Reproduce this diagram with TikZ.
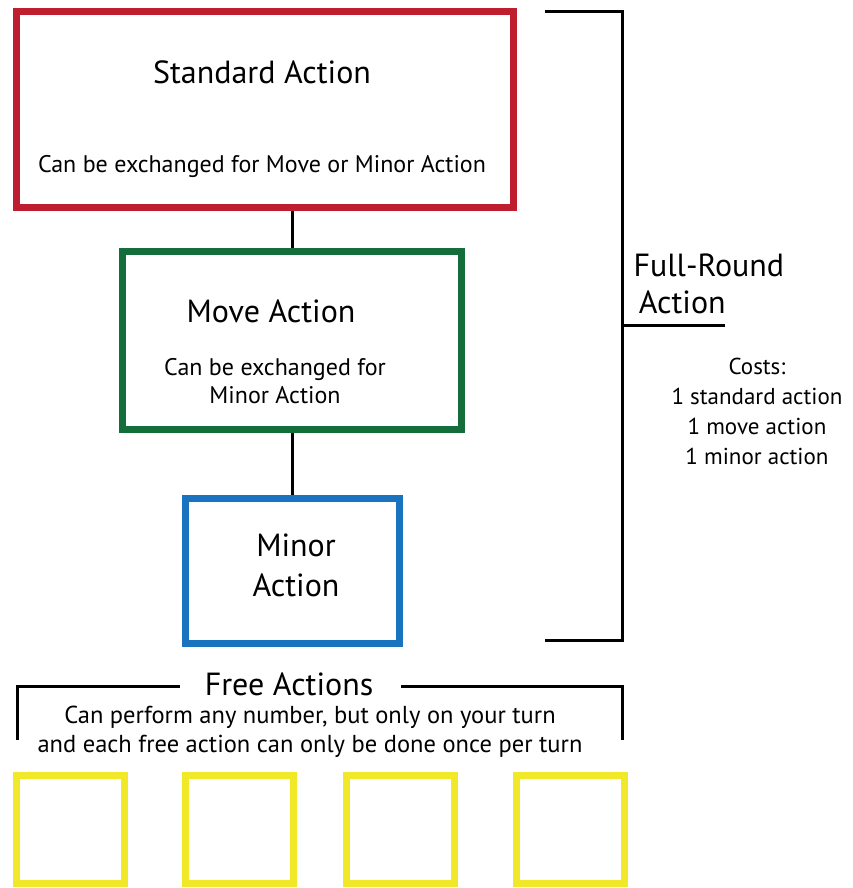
\documentclass[tikz,border=0pt]{standalone}
\usepackage{fontspec}
\setmainfont{PT Sans}
\usetikzlibrary{calc}
\definecolor{stdred}{RGB}{190,30,45}
\definecolor{movegreen}{RGB}{20,110,60}
\definecolor{minorblue}{RGB}{25,115,190}
\definecolor{freeyellow}{RGB}{240,232,40}

\begin{document}
\begin{tikzpicture}[x=1pt,y=-1pt,
  box/.style={draw,line width=7pt,inner sep=0pt},
  big/.style={font=\fontsize{32}{39}\selectfont,align=center},
  small/.style={font=\fontsize{24}{28}\selectfont,align=center},
  bar/.style={line width=3pt}]
  \useasboundingbox (0,0) rectangle (852,888);
  % action boxes
  \node[box,stdred,minimum width=497pt,minimum height=196pt] (std) at (265,109.5) {};
  \node[box,movegreen,minimum width=339pt,minimum height=178pt] (move) at (292,340.5) {};
  \node[box,minorblue,minimum width=214pt,minimum height=145pt] (minor) at (292.5,571) {};
  \node[big] (stdtitle) at (262,72) {Standard Action};
  \node[small] (stdnote) at (262,166) {Can be exchanged for Move or Minor Action};
  \node[big] (movetitle) at (271,311) {Move Action};
  \node[small] (movenote) at (275,381) {Can be exchanged for\\Minor Action};
  \node[big,font=\fontsize{32}{40}\selectfont] (minortitle) at (296,565) {Minor\\Action};
  \draw[bar] (move.north |- std.south) -- (move.north);
  \draw[bar] (minor.north |- move.south) -- (minor.north);
  % full-round bracket
  \draw[bar] (545,12) -- (622,12) -- (622,640) -- (545,640);
  \node[big,font=\fontsize{32}{37}\selectfont,align=left,anchor=west] (full) at (630,283.5) {Full-Round\\\,Action};
  \draw[bar] (622,325) -- (725,325);
  \node[small,font=\fontsize{23}{30}\selectfont] (costs) at (757,411.5)
    {Costs:\\1 standard action\\1 move action\\1 minor action};
  % free actions
  \node[big,inner sep=0pt] (free) at (289,684) {Free Actions};
  \draw[bar] (17,740) -- (17,686) -- ($(free.west |- 0,686)+(-25,0)$);
  \draw[bar] ($(free.east |- 0,686)+(28,0)$) -- (622,686) -- (622,740);
  \node[small,font=\fontsize{24.5}{29}\selectfont] (freenote) at (310,731.5)
    {Can perform any number, but only on your turn\\and each free action can only be done once per turn};
  \foreach \i/\x in {1/70.5,2/239,3/400,4/570}
    \node[box,freeyellow,minimum width=108pt,minimum height=108pt] (free\i) at (\x,829) {};
\end{tikzpicture}
\end{document}
